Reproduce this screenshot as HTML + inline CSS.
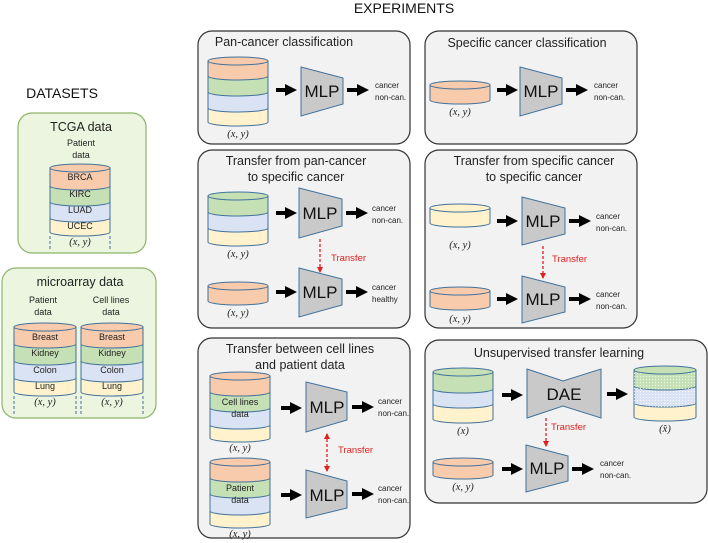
<!DOCTYPE html>
<html><head><meta charset="utf-8"><style>
body{margin:0;background:#fff}
svg{display:block;font-family:"Liberation Sans",sans-serif}
.bx{fill:#f2f2f2;stroke:#333;stroke-width:1.2}
.gb{fill:#ebf5df;stroke:#8db46a;stroke-width:1.2}
.o{fill:#f8cbad;stroke:#41719c}.g{fill:#c5e0b4;stroke:#41719c}.b{fill:#dae3f3;stroke:#41719c}.y{fill:#fff2cc;stroke:#41719c}
.mlp{fill:#c9c9c9;stroke:#41719c}
.t{font-size:12.5px;fill:#222}
.s{font-size:8px;fill:#222}
.m{font-family:"Liberation Serif",serif;font-style:italic;font-size:10.5px;fill:#222}
.ml{font-size:17px;fill:#111}
.tr{font-size:9.5px;fill:#e02020}
.dl{font-size:9px;fill:#222}
.ar{stroke:#000;stroke-width:4}
.rd{stroke:#e02020;stroke-width:1.3;stroke-dasharray:3,2}
.dv{stroke:#41719c;stroke-dasharray:3,2}
</style></head><body>
<svg width="708" height="543" viewBox="0 0 708 543">
<defs>
<marker id="ah" markerWidth="3" markerHeight="3" refX="1" refY="1.5" orient="auto" markerUnits="strokeWidth"><path d="M0,0L3,1.5L0,3Z" fill="#000"/></marker>
<marker id="rh" markerWidth="6" markerHeight="6" refX="5" refY="3" orient="auto" markerUnits="userSpaceOnUse"><path d="M0,0L6,3L0,6Z" fill="#e02020"/></marker>
<marker id="rs" markerWidth="6" markerHeight="6" refX="1" refY="3" orient="auto" markerUnits="userSpaceOnUse"><path d="M6,0L0,3L6,6Z" fill="#e02020"/></marker>
<pattern id="dt" width="3" height="3" patternUnits="userSpaceOnUse"><circle cx="1.5" cy="1.5" r="0.5" fill="#fff"/></pattern>
</defs>

<text x="404" y="13" font-size="14" text-anchor="middle" fill="#111">EXPERIMENTS</text>
<text x="62" y="98" font-size="14" text-anchor="middle" fill="#111">DATASETS</text>

<!-- TCGA -->
<rect class="gb" x="18" y="113" width="128" height="140" rx="14"/>
<text x="81" y="131" class="t" text-anchor="middle">TCGA data</text>
<text x="81" y="146" class="dl" text-anchor="middle">Patient</text>
<text x="81" y="158" class="dl" text-anchor="middle">data</text>
<path class="y" d="M50,218V232A30,4 0 0 0 110,232V218Z"/>
<path class="b" d="M50,202V218A30,4 0 0 0 110,218V202Z"/>
<path class="g" d="M50,186V202A30,4 0 0 0 110,202V186Z"/>
<path class="o" d="M50,168V186A30,4 0 0 0 110,186V168Z"/>
<ellipse class="o" cx="80" cy="168" rx="30" ry="4"/>
<text x="80" y="180" class="dl" text-anchor="middle">BRCA</text>
<text x="80" y="197" class="dl" text-anchor="middle">KIRC</text>
<text x="80" y="213" class="dl" text-anchor="middle">LUAD</text>
<text x="80" y="229" class="dl" text-anchor="middle">UCEC</text>
<text x="80" y="245" class="m" text-anchor="middle">(x, y)</text>
<line class="dv" x1="50" y1="236" x2="50" y2="250"/><line class="dv" x1="110" y1="236" x2="110" y2="250"/>

<!-- microarray -->
<rect class="gb" x="2" y="268" width="154" height="150" rx="14"/>
<text x="80" y="286" class="t" text-anchor="middle">microarray data</text>
<text x="43" y="303" class="dl" text-anchor="middle">Patient</text>
<text x="43" y="315" class="dl" text-anchor="middle">data</text>
<text x="111" y="303" class="dl" text-anchor="middle">Cell lines</text>
<text x="111" y="315" class="dl" text-anchor="middle">data</text>
<g>
<path class="y" d="M14,378V392A31,4 0 0 0 76,392V378Z"/>
<path class="b" d="M14,361V378A31,4 0 0 0 76,378V361Z"/>
<path class="g" d="M14,344V361A31,4 0 0 0 76,361V344Z"/>
<path class="o" d="M14,327V344A31,4 0 0 0 76,344V327Z"/>
<ellipse class="o" cx="45" cy="327" rx="31" ry="4"/>
<text x="45" y="340" class="dl" text-anchor="middle">Breast</text>
<text x="45" y="356" class="dl" text-anchor="middle">Kidney</text>
<text x="45" y="373" class="dl" text-anchor="middle">Colon</text>
<text x="45" y="389" class="dl" text-anchor="middle">Lung</text>
<text x="45" y="405" class="m" text-anchor="middle">(x, y)</text>
<line class="dv" x1="14" y1="396" x2="14" y2="414"/><line class="dv" x1="76" y1="396" x2="76" y2="414"/>
</g>
<g transform="translate(67,0)">
<path class="y" d="M14,378V392A31,4 0 0 0 76,392V378Z"/>
<path class="b" d="M14,361V378A31,4 0 0 0 76,378V361Z"/>
<path class="g" d="M14,344V361A31,4 0 0 0 76,361V344Z"/>
<path class="o" d="M14,327V344A31,4 0 0 0 76,344V327Z"/>
<ellipse class="o" cx="45" cy="327" rx="31" ry="4"/>
<text x="45" y="340" class="dl" text-anchor="middle">Breast</text>
<text x="45" y="356" class="dl" text-anchor="middle">Kidney</text>
<text x="45" y="373" class="dl" text-anchor="middle">Colon</text>
<text x="45" y="389" class="dl" text-anchor="middle">Lung</text>
<text x="45" y="405" class="m" text-anchor="middle">(x, y)</text>
<line class="dv" x1="14" y1="396" x2="14" y2="414"/><line class="dv" x1="76" y1="396" x2="76" y2="414"/>
</g>

<!-- Pan-cancer -->
<rect class="bx" x="198" y="31" width="212" height="113" rx="14"/>
<text x="284" y="46" class="t" text-anchor="middle">Pan-cancer classification</text>
<path class="y" d="M208,108V122A30,4 0 0 0 268,122V108Z"/>
<path class="b" d="M208,92V108A30,4 0 0 0 268,108V92Z"/>
<path class="g" d="M208,76V92A30,4 0 0 0 268,92V76Z"/>
<path class="o" d="M208,61V76A30,4 0 0 0 268,76V61Z"/>
<ellipse class="o" cx="238" cy="61" rx="30" ry="4"/>
<text x="238" y="137" class="m" text-anchor="middle">(x, y)</text>
<line class="ar" x1="276" y1="90" x2="289" y2="90" marker-end="url(#ah)"/>
<path class="mlp" d="M301,67L343,78V104L301,116Z"/>
<text x="322" y="97" class="ml" text-anchor="middle">MLP</text>
<line class="ar" x1="347" y1="90" x2="361" y2="90" marker-end="url(#ah)"/>
<text x="375" y="88" class="s">cancer</text><text x="375" y="100" class="s">non-can.</text>

<!-- Specific -->
<rect class="bx" x="425" y="31" width="212" height="113" rx="14"/>
<text x="527" y="47" class="t" text-anchor="middle">Specific cancer classification</text>
<path class="o" d="M430,85V100A30,4 0 0 0 490,100V85Z"/>
<ellipse class="o" cx="460" cy="85" rx="30" ry="4"/>
<text x="460" y="115" class="m" text-anchor="middle">(x, y)</text>
<line class="ar" x1="497" y1="90" x2="510" y2="90" marker-end="url(#ah)"/>
<path class="mlp" d="M520,67L562,78V104L520,116Z"/>
<text x="541" y="97" class="ml" text-anchor="middle">MLP</text>
<line class="ar" x1="566" y1="90" x2="580" y2="90" marker-end="url(#ah)"/>
<text x="594" y="88" class="s">cancer</text><text x="594" y="100" class="s">non-can.</text>

<!-- Pan to specific -->
<rect class="bx" x="198" y="150" width="212" height="178" rx="14"/>
<text x="296" y="165" class="t" text-anchor="middle">Transfer from pan-cancer</text>
<text x="296" y="181" class="t" text-anchor="middle">to specific cancer</text>
<path class="y" d="M208,228V242A30,4 0 0 0 268,242V228Z"/>
<path class="b" d="M208,212V228A30,4 0 0 0 268,228V212Z"/>
<path class="g" d="M208,196V212A30,4 0 0 0 268,212V196Z"/>
<ellipse class="g" cx="238" cy="196" rx="30" ry="4"/>
<text x="238" y="257" class="m" text-anchor="middle">(x, y)</text>
<line class="ar" x1="276" y1="213" x2="289" y2="213" marker-end="url(#ah)"/>
<path class="mlp" d="M299,188L342,199V226L299,238Z"/>
<text x="320" y="219" class="ml" text-anchor="middle">MLP</text>
<line class="ar" x1="346" y1="213" x2="360" y2="213" marker-end="url(#ah)"/>
<text x="372" y="211" class="s">cancer</text><text x="372" y="223" class="s">non-can.</text>
<line class="rd" x1="320" y1="239" x2="320" y2="272" marker-end="url(#rh)"/>
<text x="331" y="261" class="tr">Transfer</text>
<path class="o" d="M208,286V301A30,4 0 0 0 268,301V286Z"/>
<ellipse class="o" cx="238" cy="286" rx="30" ry="4"/>
<text x="238" y="316" class="m" text-anchor="middle">(x, y)</text>
<line class="ar" x1="276" y1="292" x2="289" y2="292" marker-end="url(#ah)"/>
<path class="mlp" d="M299,268L342,279V305L299,317Z"/>
<text x="320" y="298" class="ml" text-anchor="middle">MLP</text>
<line class="ar" x1="346" y1="292" x2="360" y2="292" marker-end="url(#ah)"/>
<text x="372" y="290" class="s">cancer</text><text x="372" y="302" class="s">healthy</text>

<!-- specific to specific -->
<rect class="bx" x="425" y="150" width="212" height="178" rx="14"/>
<text x="534" y="165" class="t" text-anchor="middle">Transfer from specific cancer</text>
<text x="534" y="181" class="t" text-anchor="middle">to specific cancer</text>
<path class="y" d="M430,208V223A30,4 0 0 0 490,223V208Z"/>
<ellipse class="y" cx="460" cy="208" rx="30" ry="4"/>
<text x="460" y="248" class="m" text-anchor="middle">(x, y)</text>
<line class="ar" x1="497" y1="221" x2="510" y2="221" marker-end="url(#ah)"/>
<path class="mlp" d="M522,197L565,208V234L522,245Z"/>
<text x="543" y="227" class="ml" text-anchor="middle">MLP</text>
<line class="ar" x1="569" y1="221" x2="583" y2="221" marker-end="url(#ah)"/>
<text x="596" y="219" class="s">cancer</text><text x="596" y="231" class="s">non-can.</text>
<line class="rd" x1="543" y1="246" x2="543" y2="278" marker-end="url(#rh)"/>
<text x="552" y="262" class="tr">Transfer</text>
<path class="o" d="M430,291V306A30,4 0 0 0 490,306V291Z"/>
<ellipse class="o" cx="460" cy="291" rx="30" ry="4"/>
<text x="460" y="322" class="m" text-anchor="middle">(x, y)</text>
<line class="ar" x1="497" y1="299" x2="510" y2="299" marker-end="url(#ah)"/>
<path class="mlp" d="M522,276L565,287V312L522,323Z"/>
<text x="543" y="305" class="ml" text-anchor="middle">MLP</text>
<line class="ar" x1="569" y1="299" x2="583" y2="299" marker-end="url(#ah)"/>
<text x="596" y="297" class="s">cancer</text><text x="596" y="309" class="s">non-can.</text>

<!-- cell lines & patient -->
<rect class="bx" x="198" y="338" width="212" height="200" rx="14"/>
<text x="300" y="353" class="t" text-anchor="middle">Transfer between cell lines</text>
<text x="300" y="369" class="t" text-anchor="middle">and patient data</text>
<path class="y" d="M210,425V438A30,4 0 0 0 270,438V425Z"/>
<path class="b" d="M210,408V425A30,4 0 0 0 270,425V408Z"/>
<path class="g" d="M210,392V408A30,4 0 0 0 270,408V392Z"/>
<path class="o" d="M210,376V392A30,4 0 0 0 270,392V376Z"/>
<ellipse class="o" cx="240" cy="376" rx="30" ry="4"/>
<text x="240" y="405" class="dl" text-anchor="middle">Cell lines</text>
<text x="240" y="417" class="dl" text-anchor="middle">data</text>
<text x="240" y="451" class="m" text-anchor="middle">(x, y)</text>
<line class="ar" x1="281" y1="408" x2="294" y2="408" marker-end="url(#ah)"/>
<path class="mlp" d="M306,382L347,392V420L306,432Z"/>
<text x="327" y="413" class="ml" text-anchor="middle">MLP</text>
<line class="ar" x1="352" y1="407" x2="366" y2="407" marker-end="url(#ah)"/>
<text x="378" y="404" class="s">cancer</text><text x="378" y="416" class="s">non-can.</text>
<line class="rd" x1="327" y1="434" x2="327" y2="471" marker-start="url(#rs)" marker-end="url(#rh)"/>
<text x="338" y="453" class="tr">Transfer</text>
<path class="y" d="M210,511V524A30,4 0 0 0 270,524V511Z"/>
<path class="b" d="M210,494V511A30,4 0 0 0 270,511V494Z"/>
<path class="g" d="M210,478V494A30,4 0 0 0 270,494V478Z"/>
<path class="o" d="M210,462V478A30,4 0 0 0 270,478V462Z"/>
<ellipse class="o" cx="240" cy="462" rx="30" ry="4"/>
<text x="240" y="491" class="dl" text-anchor="middle">Patient</text>
<text x="240" y="503" class="dl" text-anchor="middle">data</text>
<text x="240" y="537" class="m" text-anchor="middle">(x, y)</text>
<line class="ar" x1="281" y1="495" x2="294" y2="495" marker-end="url(#ah)"/>
<path class="mlp" d="M306,470L347,481V508L306,518Z"/>
<text x="327" y="501" class="ml" text-anchor="middle">MLP</text>
<line class="ar" x1="352" y1="494" x2="366" y2="494" marker-end="url(#ah)"/>
<text x="378" y="491" class="s">cancer</text><text x="378" y="503" class="s">non-can.</text>

<!-- Unsupervised -->
<rect class="bx" x="425" y="340" width="282" height="163" rx="14"/>
<text x="559" y="357" class="t" text-anchor="middle">Unsupervised transfer learning</text>
<path class="y" d="M433,404V419A30,4 0 0 0 493,419V404Z"/>
<path class="b" d="M433,389V404A30,4 0 0 0 493,404V389Z"/>
<path class="g" d="M433,372V389A30,4 0 0 0 493,389V372Z"/>
<ellipse class="g" cx="463" cy="372" rx="30" ry="4"/>
<text x="463" y="434" class="m" text-anchor="middle">(x)</text>
<line class="ar" x1="502" y1="395" x2="515" y2="395" marker-end="url(#ah)"/>
<path class="mlp" d="M527,369L563,381L601,369V418L563,406L527,418Z"/>
<text x="564" y="400" class="ml" text-anchor="middle">DAE</text>
<line class="ar" x1="607" y1="394" x2="620" y2="394" marker-end="url(#ah)"/>
<path class="y" d="M634,403V417A31,4 0 0 0 696,417V403Z"/>
<path class="b" d="M634,386V403A31,4 0 0 0 696,403V386Z"/>
<path class="g" d="M634,370V386A31,4 0 0 0 696,386V370Z"/>
<path d="M634,370V403A31,4 0 0 0 696,403V370Z" fill="url(#dt)"/>
<ellipse class="g" cx="665" cy="370" rx="31" ry="4"/>
<text x="665" y="432" class="m" text-anchor="middle">(x̂)</text>
<line class="rd" x1="546" y1="418" x2="546" y2="446" marker-end="url(#rh)"/>
<text x="551" y="430" class="tr">Transfer</text>
<path class="o" d="M433,462V475A30,4 0 0 0 493,475V462Z"/>
<ellipse class="o" cx="463" cy="462" rx="30" ry="4"/>
<text x="463" y="490" class="m" text-anchor="middle">(x, y)</text>
<line class="ar" x1="502" y1="469" x2="515" y2="469" marker-end="url(#ah)"/>
<path class="mlp" d="M526,445L568,456V481L526,492Z"/>
<text x="547" y="474" class="ml" text-anchor="middle">MLP</text>
<line class="ar" x1="572" y1="469" x2="586" y2="469" marker-end="url(#ah)"/>
<text x="600" y="466" class="s">cancer</text><text x="600" y="478" class="s">non-can.</text>
</svg>
</body></html>
